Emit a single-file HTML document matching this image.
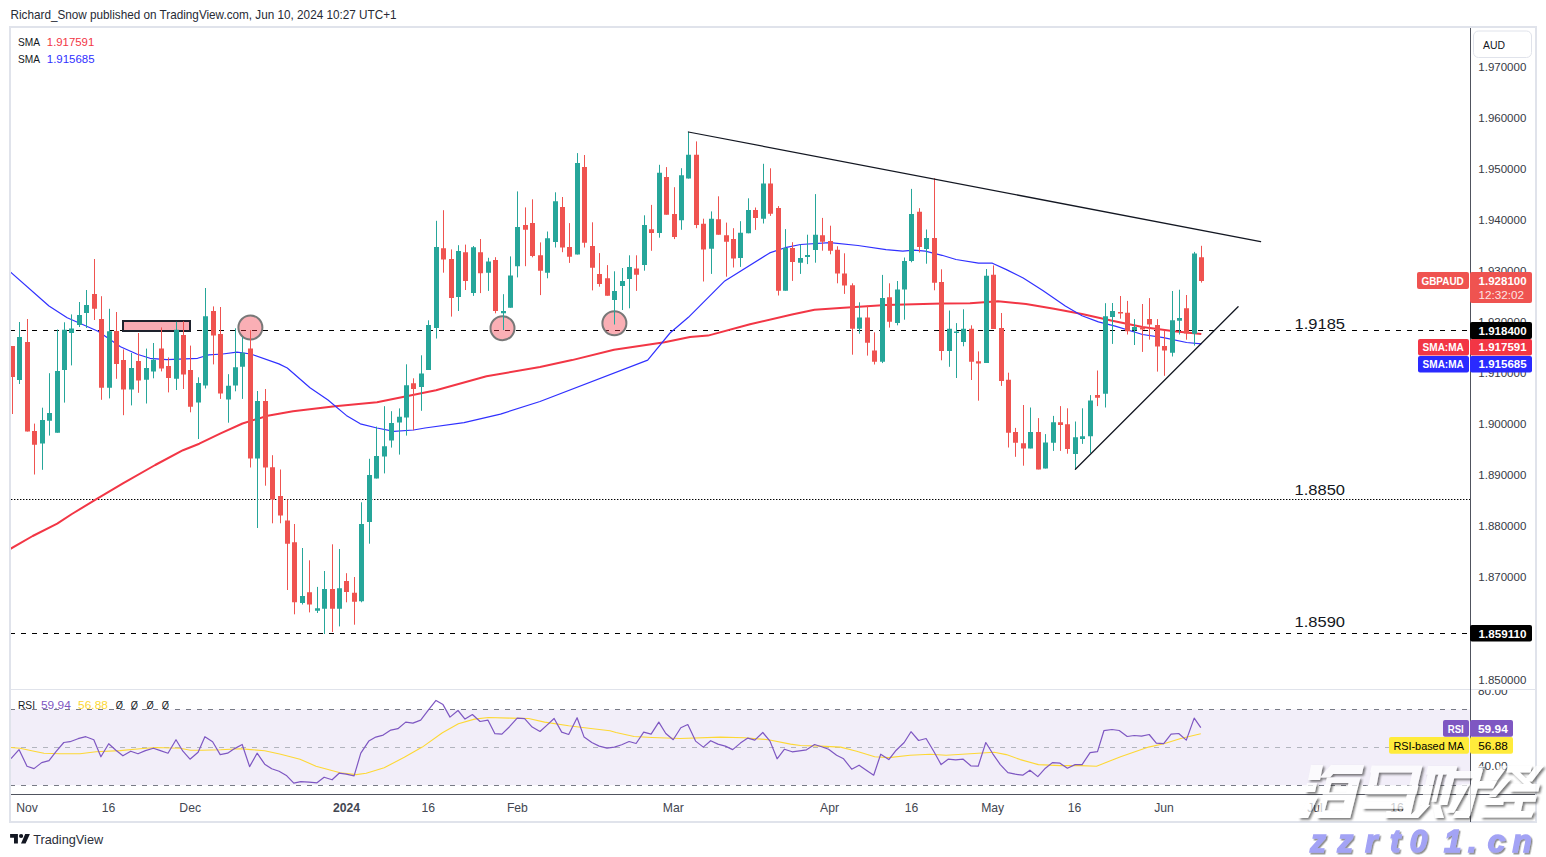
<!DOCTYPE html>
<html><head><meta charset="utf-8"><style>
html,body{margin:0;padding:0;background:#fff;width:1546px;height:857px;overflow:hidden}
svg{display:block;font-family:"Liberation Sans", sans-serif}
</style></head><body>
<svg width="1546" height="857" viewBox="0 0 1546 857">
<rect width="1546" height="857" fill="#fff"/>
<defs>
<clipPath id="pane"><rect x="11" y="28" width="1459" height="661"/></clipPath>
<clipPath id="rsip"><rect x="11" y="690" width="1459" height="104"/></clipPath>
<filter id="sh" x="-10%" y="-10%" width="130%" height="140%"><feDropShadow dx="1.8" dy="1.8" stdDeviation="1" flood-color="#333" flood-opacity="0.9"/></filter>
<filter id="sh2" x="-10%" y="-10%" width="130%" height="140%"><feDropShadow dx="1.4" dy="1.6" stdDeviation="0.7" flood-color="#333" flood-opacity="0.55"/></filter>
</defs>
<rect x="10" y="27" width="1526" height="795" fill="none" stroke="#e0e3eb" stroke-width="2"/>
<text x="10.5" y="19" font-size="12.2" fill="#262a35" textLength="386" lengthAdjust="spacingAndGlyphs">Richard_Snow published on TradingView.com, Jun 10, 2024 10:27 UTC+1</text>
<g clip-path="url(#pane)">
<line x1="10" y1="330.5" x2="1470" y2="330.5" stroke="#000" stroke-width="1" stroke-dasharray="5 6"/>
<line x1="11" y1="499.5" x2="1470" y2="499.5" stroke="#000" stroke-width="1.2" stroke-dasharray="1.4 1.6"/>
<line x1="10" y1="633.5" x2="1470" y2="633.5" stroke="#000" stroke-width="1" stroke-dasharray="5 6"/>
<polyline points="10.1,549.0 32.7,536.0 57.2,523.7 71.9,514.0 96.4,499.2 122.5,483.7 155.2,465.0 183.0,450.2 199.3,443.7 220.6,433.4 242.5,423.5 267.7,415.7 293.0,411.2 335.0,406.2 377.0,402.2 436.0,390.3 486.5,376.3 540.0,367.1 572.0,360.1 614.0,349.8 664.5,342.2 690.0,337.1 708.0,335.6 750.0,324.3 792.0,314.5 814.5,309.8 840.0,308.1 886.0,305.1 942.0,303.5 970.0,303.2 998.0,301.3 1026.0,304.1 1054.0,308.8 1082.0,313.9 1111.0,320.4 1142.5,327.1 1174.0,331.3 1201.3,334.0" fill="none" stroke="#f23645" stroke-width="2" stroke-linejoin="round"/>
<polyline points="10.4,271.9 49.0,306.0 67.2,317.8 98.0,331.3 120.5,346.7 137.3,354.2 150.0,358.3 166.8,359.7 197.6,358.3 208.8,354.9 222.8,354.0 236.9,352.1 250.9,354.0 278.9,363.9 287.3,368.0 310.0,387.7 328.0,400.0 346.3,415.4 360.3,423.8 377.0,428.0 393.9,431.4 413.6,430.0 425.0,428.0 464.0,422.6 500.5,414.1 540.0,401.5 647.7,360.1 670.0,333.0 688.4,317.3 724.8,280.9 769.7,252.9 786.5,247.3 800.5,244.5 830.0,242.7 858.0,245.5 886.0,249.7 902.8,251.1 914.0,250.2 925.3,251.1 942.0,255.3 956.0,259.5 978.5,263.1 992.4,263.2 1006.4,269.6 1023.2,278.0 1042.8,290.6 1065.3,306.0 1082.0,315.8 1098.4,321.9 1115.2,326.1 1142.5,334.5 1163.5,337.6 1186.6,342.5 1201.3,343.9" fill="none" stroke="#3030ff" stroke-width="1.2" stroke-linejoin="round"/>
<rect x="123" y="321" width="67" height="10" fill="#f8abb3" stroke="#1e222d" stroke-width="2"/>
<circle cx="250.4" cy="327.5" r="12" fill="rgba(242,54,69,0.4)" stroke="#787878" stroke-width="2"/>
<circle cx="502.5" cy="328.2" r="12" fill="rgba(242,54,69,0.4)" stroke="#787878" stroke-width="2"/>
<circle cx="614.4" cy="323.3" r="12" fill="rgba(242,54,69,0.4)" stroke="#787878" stroke-width="2"/>
<path d="M19.5,322.0V384.0M42.5,407.7V469.8M49.5,373.2V435.6M57.5,329.5V432.7M64.5,322.3V402.6M71.5,314.4V365.4M79.5,302.0V327.0M86.5,290.0V328.0M109.5,308.8V398.4M131.5,353.0V405.4M146.5,348.6V403.5M153.5,343.0V378.3M176.5,321.8V390.0M198.5,377.3V439.0M205.5,288.0V388.5M228.5,374.2V422.7M235.5,328.3V391.3M242.5,337.2V398.9M257.5,391.0V528.0M302.5,548.0V604.5M317.5,586.9V613.0M324.5,571.0V634.0M339.5,549.0V626.4M361.5,502.3V602.3M369.5,458.8V543.7M376.5,426.6V478.5M384.5,406.2V473.4M391.5,411.2V447.6M399.5,408.4V454.6M406.5,364.3V435.6M421.5,355.3V410.8M428.5,320.3V369.9M436.5,220.8V338.5M458.5,245.2V311.0M473.5,246.0V295.9M488.5,257.8V290.9M503.5,294.2V330.1M510.5,256.4V307.7M517.5,191.4V277.4M547.5,231.5V278.3M555.5,192.3V247.5M577.5,153.1V254.5M614.5,271.3V324.5M622.5,268.0V310.0M629.5,255.3V308.3M644.5,215.3V270.7M659.5,164.8V237.7M681.5,168.2V229.8M688.5,131.9V178.6M711.5,211.4V273.9M740.5,221.2V266.9M748.5,198.3V233.3M763.5,163.8V223.5M785.5,229.1V290.7M800.5,244.5V273.9M807.5,234.7V264.1M815.5,194.1V262.7M859.5,302.3V333.7M882.5,274.9V363.1M897.5,281.0V325.3M904.5,257.5V319.7M911.5,188.9V262.3M926.5,229.5V263.7M949.5,310.5V366.8M956.5,323.1V378.0M963.5,309.3V346.3M986.5,269.0V362.9M1030.5,407.5V448.4M1045.5,434.1V468.5M1053.5,415.9V450.9M1075.5,421.5V470.0M1082.5,408.3V443.9M1090.5,395.1V453.1M1105.5,303.2V407.5M1112.5,303.0V343.9M1134.5,319.1V345.0M1172.5,291.0V356.5M1179.5,289.7V334.5M1194.5,251.9V345.6" stroke="#26a69a" stroke-width="1" fill="none"/>
<path d="M17,337.0H22V380.0H17ZM40,420.0H45V443.5H40ZM47,413.0H52V420.8H47ZM55,371.0H60V432.7H55ZM62,329.8H67V369.9H62ZM69,328.4H74V332.9H69ZM77,315.0H82V325.0H77ZM84,305.0H89V313.0H84ZM107,331.2H112V387.8H107ZM129,368.0H134V389.5H129ZM144,368.0H149V379.7H144ZM151,359.8H156V371.5H151ZM174,329.7H179V378.7H174ZM196,383.0H201V402.5H196ZM203,316.2H208V385.4H203ZM226,385.7H231V399.4H226ZM233,367.2H238V385.4H233ZM240,352.7H245V366.7H240ZM255,401.0H260V458.6H255ZM300,596.0H305V603.0H300ZM315,608.2H320V610.7H315ZM322,589.0H327V608.7H322ZM337,588.3H342V608.7H337ZM359,524.1H364V601.2H359ZM367,475.1H372V521.9H367ZM374,456.0H379V478.5H374ZM382,446.2H387V456.6H382ZM389,423.0H394V440.6H389ZM397,416.8H402V422.4H397ZM404,385.3H409V417.5H404ZM419,373.5H424V387.0H419ZM426,325.0H431V369.9H426ZM434,246.9H439V327.9H434ZM456,251.1H461V297.0H456ZM471,247.2H476V293.1H471ZM486,261.4H491V272.7H486ZM501,311.0H506V313.3H501ZM508,275.5H513V307.7H508ZM515,227.0H520V266.2H515ZM545,238.2H550V272.7H545ZM553,201.3H558V241.9H553ZM575,162.9H580V254.5H575ZM612,290.9H617V299.9H612ZM620,281.1H625V285.9H620ZM627,267.1H632V278.9H627ZM642,225.1H647V265.1H642ZM657,172.7H662V232.9H657ZM679,175.2H684V220.3H679ZM686,154.8H691V178.6H686ZM709,218.7H714V248.7H709ZM738,232.7H743V257.9H738ZM746,210.0H751V233.3H746ZM761,183.4H766V218.7H761ZM783,247.9H788V290.7H783ZM798,257.9H803V262.7H798ZM805,255.1H810V257.1H805ZM813,234.7H818V250.1H813ZM857,317.5H862V328.7H857ZM880,298.1H885V361.7H880ZM895,289.4H900V323.1H895ZM902,260.9H907V289.4H902ZM909,214.1H914V260.9H909ZM924,237.9H929V249.1H924ZM947,328.7H952V351.1H947ZM954,331.5H959V333.0H954ZM961,328.7H966V342.1H961ZM984,275.8H989V362.9H984ZM1028,432.1H1033V448.4H1028ZM1043,442.5H1048V468.5H1043ZM1051,422.3H1056V442.8H1051ZM1073,437.2H1078V454.0H1073ZM1080,436.3H1085V439.1H1080ZM1088,400.5H1093V436.3H1088ZM1103,316.3H1108V393.7H1103ZM1110,311.0H1115V317.0H1110ZM1132,327.1H1137V330.3H1132ZM1170,320.2H1175V352.7H1170ZM1177,317.9H1182V320.8H1177ZM1192,253.6H1197V333.8H1192Z" fill="#26a69a"/>
<path d="M12.5,346.0V414.0M27.5,319.0V431.5M34.5,423.6V474.5M94.5,259.0V320.0M101.5,296.2V399.8M116.5,312.0V378.8M123.5,349.4V415.2M138.5,333.0V392.8M161.5,327.4V371.4M168.5,357.4V392.4M183.5,321.3V389.0M190.5,345.6V412.3M213.5,306.4V364.4M220.5,307.0V398.9M250.5,330.2V467.5M265.5,389.0V485.7M272.5,455.2V523.3M280.5,469.5V523.3M287.5,499.5V590.0M294.5,524.0V614.3M309.5,560.3V612.4M332.5,544.3V632.0M346.5,573.2V602.3M354.5,577.0V624.7M413.5,378.3V430.3M443.5,210.2V272.7M451.5,249.4V316.6M465.5,244.6V290.0M480.5,239.0V293.1M495.5,257.2V313.3M525.5,207.4V266.2M532.5,199.3V257.3M540.5,242.4V295.1M562.5,197.0V252.2M569.5,223.1V262.9M584.5,155.0V247.5M592.5,222.3V290.4M599.5,253.1V286.7M607.5,265.1V295.7M636.5,255.3V290.9M651.5,204.9V250.8M666.5,167.1V214.7M674.5,187.2V239.1M696.5,141.4V228.2M703.5,218.7V281.5M718.5,196.3V234.7M726.5,222.6V276.7M733.5,228.2V267.5M755.5,207.5V229.9M770.5,168.3V215.9M778.5,206.1V295.5M792.5,242.2V280.9M822.5,217.9V250.7M830.5,225.7V254.3M837.5,246.3V283.3M844.5,253.3V293.9M852.5,283.3V354.7M867.5,305.7V355.6M874.5,332.3V364.5M889.5,283.3V327.6M919.5,208.2V252.5M934.5,178.2V290.3M941.5,269.3V360.3M971.5,325.3V380.0M978.5,351.4V400.7M993.5,265.4V329.0M1001.5,313.0V385.9M1008.5,372.7V447.5M1015.5,427.9V456.8M1023.5,405.0V465.7M1038.5,418.1V469.4M1060.5,406.1V450.9M1067.5,408.3V453.7M1097.5,370.5V406.1M1120.5,296.0V318.7M1127.5,300.9V334.5M1142.5,304.0V351.9M1149.5,298.1V339.7M1157.5,319.1V371.6M1164.5,330.3V375.8M1186.5,295.0V339.7M1201.5,245.8V282.6" stroke="#ef5350" stroke-width="1" fill="none"/>
<path d="M10,346.0H15V377.0H10ZM25,342.0H30V431.5H25ZM32,431.0H37V444.7H32ZM92,294.0H97V308.8H92ZM99,319.0H104V387.8H99ZM114,331.0H119V364.0H114ZM121,360.0H126V389.5H121ZM136,361.0H141V380.5H136ZM159,348.5H164V368.6H159ZM166,366.0H171V377.9H166ZM181,335.0H186V374.5H181ZM188,370.0H193V406.7H188ZM211,311.0H216V335.6H211ZM218,333.9H223V393.6H218ZM248,348.5H253V458.6H248ZM263,401.0H268V467.5H263ZM270,467.2H275V499.5H270ZM278,496.1H283V515.4H278ZM285,520.5H290V543.7H285ZM292,542.3H297V602.3H292ZM307,592.2H312V604.5H307ZM330,589.0H335V608.7H330ZM344,581.0H349V592.0H344ZM352,592.8H357V601.7H352ZM411,383.3H416V389.0H411ZM441,248.3H446V259.5H441ZM449,258.9H454V297.9H449ZM463,252.2H468V281.0H463ZM478,252.2H483V273.2H478ZM493,260.0H498V311.0H493ZM523,225.0H528V229.8H523ZM530,223.1H535V255.9H530ZM538,255.3H543V270.7H538ZM560,207.1H565V247.5H560ZM567,246.9H572V256.7H567ZM582,167.1H587V242.7H582ZM590,246.1H595V267.7H590ZM597,274.1H602V283.9H597ZM605,278.3H610V295.7H605ZM634,268.5H639V274.7H634ZM649,229.3H654V232.9H649ZM664,176.9H669V214.7H664ZM672,213.9H677V237.1H672ZM694,154.8H699V224.9H694ZM701,223.8H706V249.5H701ZM716,219.3H721V234.7H716ZM724,235.2H729V241.7H724ZM731,238.9H736V258.5H731ZM753,210.0H758V217.9H753ZM768,183.4H773V213.7H768ZM776,208.1H781V290.7H776ZM790,247.9H795V261.9H790ZM820,235.2H825V241.7H820ZM828,240.9H833V250.7H828ZM835,249.7H840V273.5H835ZM842,273.5H847V285.5H842ZM850,285.2H855V328.7H850ZM865,317.5H870V342.7H865ZM872,350.5H877V361.7H872ZM887,297.3H892V321.7H887ZM917,211.8H922V246.9H917ZM932,237.9H937V282.7H932ZM939,281.9H944V351.1H939ZM969,328.7H974V361.7H969ZM976,361.2H981V363.5H976ZM991,274.7H996V329.0H991ZM999,327.9H1004V381.1H999ZM1006,379.7H1011V432.7H1006ZM1013,432.1H1018V442.8H1013ZM1021,443.3H1026V448.4H1021ZM1036,432.1H1041V469.4H1036ZM1058,422.3H1063V425.1H1058ZM1065,424.3H1070V448.9H1065ZM1095,394.9H1100V397.7H1095ZM1118,312.0H1123V313.5H1118ZM1125,312.8H1130V331.3H1125ZM1140,327.5H1145V329.6H1140ZM1147,319.1H1152V324.6H1147ZM1155,325.0H1160V346.4H1155ZM1162,346.0H1167V350.6H1162ZM1184,308.2H1189V333.4H1184ZM1199,257.2H1204V280.9H1199Z" fill="#ef5350"/>
<line x1="688.4" y1="132" x2="1260.6" y2="241.6" stroke="#131722" stroke-width="1.25" stroke-linecap="round"/>
<line x1="1075.4" y1="469.2" x2="1238.1" y2="306.7" stroke="#131722" stroke-width="1.25" stroke-linecap="round"/>
<text x="1294.5" y="328.8" font-size="14.8" fill="#131722" textLength="50.5" lengthAdjust="spacingAndGlyphs">1.9185</text>
<text x="1294.5" y="494.7" font-size="14.8" fill="#131722" textLength="50.5" lengthAdjust="spacingAndGlyphs">1.8850</text>
<text x="1294.5" y="626.7" font-size="14.8" fill="#131722" textLength="50.5" lengthAdjust="spacingAndGlyphs">1.8590</text>
<text x="18" y="45.7" font-size="11.8" fill="#131722" textLength="22" lengthAdjust="spacingAndGlyphs">SMA</text>
<text x="46.8" y="45.7" font-size="11.8" fill="#f23645" textLength="47.5" lengthAdjust="spacingAndGlyphs">1.917591</text>
<text x="18" y="62.8" font-size="11.8" fill="#131722" textLength="22" lengthAdjust="spacingAndGlyphs">SMA</text>
<text x="46.8" y="62.8" font-size="11.8" fill="#3030ff" textLength="47.8" lengthAdjust="spacingAndGlyphs">1.915685</text>
</g>
<rect x="11" y="689" width="1524" height="1" fill="#e0e3eb"/>
<rect x="1470" y="28" width="1" height="794" fill="#50535e"/>
<rect x="11" y="794" width="1524" height="1" fill="#50535e"/>
<rect x="1473.5" y="31" width="58" height="26.5" rx="5" fill="#fff" stroke="#e0e3eb" stroke-width="1"/>
<text x="1483" y="48.7" font-size="11.6" fill="#131722" textLength="22" lengthAdjust="spacingAndGlyphs">AUD</text>
<text x="1478.3" y="70.7" font-size="11.8" fill="#363a45" textLength="48" lengthAdjust="spacingAndGlyphs">1.970000</text>
<text x="1478.3" y="121.8" font-size="11.8" fill="#363a45" textLength="48" lengthAdjust="spacingAndGlyphs">1.960000</text>
<text x="1478.3" y="172.8" font-size="11.8" fill="#363a45" textLength="48" lengthAdjust="spacingAndGlyphs">1.950000</text>
<text x="1478.3" y="223.9" font-size="11.8" fill="#363a45" textLength="48" lengthAdjust="spacingAndGlyphs">1.940000</text>
<text x="1478.3" y="275.0" font-size="11.8" fill="#363a45" textLength="48" lengthAdjust="spacingAndGlyphs">1.930000</text>
<text x="1478.3" y="326.1" font-size="11.8" fill="#363a45" textLength="48" lengthAdjust="spacingAndGlyphs">1.920000</text>
<text x="1478.3" y="377.1" font-size="11.8" fill="#363a45" textLength="48" lengthAdjust="spacingAndGlyphs">1.910000</text>
<text x="1478.3" y="428.2" font-size="11.8" fill="#363a45" textLength="48" lengthAdjust="spacingAndGlyphs">1.900000</text>
<text x="1478.3" y="479.3" font-size="11.8" fill="#363a45" textLength="48" lengthAdjust="spacingAndGlyphs">1.890000</text>
<text x="1478.3" y="530.3" font-size="11.8" fill="#363a45" textLength="48" lengthAdjust="spacingAndGlyphs">1.880000</text>
<text x="1478.3" y="581.4" font-size="11.8" fill="#363a45" textLength="48" lengthAdjust="spacingAndGlyphs">1.870000</text>
<text x="1478.3" y="632.5" font-size="11.8" fill="#363a45" textLength="48" lengthAdjust="spacingAndGlyphs">1.860000</text>
<text x="1478.3" y="683.5" font-size="11.8" fill="#363a45" textLength="48" lengthAdjust="spacingAndGlyphs">1.850000</text>
<rect x="1417" y="272" width="52" height="17" rx="2" fill="#ef5350"/>
<text x="1421.5" y="284.6" font-size="11.4" font-weight="bold" fill="#fff" textLength="42.2" lengthAdjust="spacingAndGlyphs">GBPAUD</text>
<rect x="1470" y="272" width="62" height="31" rx="2" fill="#ef5350"/>
<text x="1478.6" y="284.6" font-size="11.6" font-weight="bold" fill="#fff" textLength="48" lengthAdjust="spacingAndGlyphs">1.928100</text>
<text x="1478.6" y="298.7" font-size="11.6" fill="#fde3e3" textLength="45.5" lengthAdjust="spacingAndGlyphs">12:32:02</text>
<rect x="1470" y="322" width="62" height="17" rx="2" fill="#000"/>
<text x="1478.6" y="334.6" font-size="11.6" font-weight="bold" fill="#fff" textLength="48" lengthAdjust="spacingAndGlyphs">1.918400</text>
<rect x="1418" y="339" width="51" height="16.5" rx="2" fill="#f23645"/>
<text x="1422.6" y="351.3" font-size="11.4" font-weight="bold" fill="#fff" textLength="41.2" lengthAdjust="spacingAndGlyphs">SMA:MA</text>
<rect x="1470" y="339" width="62" height="16.5" rx="2" fill="#f23645"/>
<text x="1478.6" y="351.3" font-size="11.6" font-weight="bold" fill="#fff" textLength="48" lengthAdjust="spacingAndGlyphs">1.917591</text>
<rect x="1418" y="356" width="51" height="16.5" rx="2" fill="#2a2aff"/>
<text x="1422.6" y="368.4" font-size="11.4" font-weight="bold" fill="#fff" textLength="41.2" lengthAdjust="spacingAndGlyphs">SMA:MA</text>
<rect x="1470" y="356" width="62" height="16.5" rx="2" fill="#2a2aff"/>
<text x="1478.6" y="368.4" font-size="11.6" font-weight="bold" fill="#fff" textLength="48" lengthAdjust="spacingAndGlyphs">1.915685</text>
<rect x="1470" y="625" width="62" height="16.5" rx="2" fill="#000"/>
<text x="1478.6" y="637.5" font-size="11.6" font-weight="bold" fill="#fff" textLength="48" lengthAdjust="spacingAndGlyphs">1.859110</text>
<g clip-path="url(#rsip)">
<rect x="11" y="709.5" width="1459" height="75.7" fill="#7e57c2" fill-opacity="0.1"/>
<line x1="10" y1="709.5" x2="1470" y2="709.5" stroke="#787b86" stroke-width="1" stroke-dasharray="5 6"/>
<line x1="10" y1="747.5" x2="1470" y2="747.5" stroke="#b2b5be" stroke-width="1" stroke-dasharray="5 6"/>
<line x1="10" y1="785.5" x2="1470" y2="785.5" stroke="#787b86" stroke-width="1" stroke-dasharray="5 6"/>
<polyline points="10.0,747.5 20.0,748.2 34.0,751.2 44.0,753.2 60.0,753.8 80.0,753.8 96.0,751.8 120.0,750.6 140.0,748.8 156.0,747.5 180.0,748.2 190.5,750.2 202.5,750.2 220.6,749.8 240.6,748.8 250.6,749.6 264.7,750.8 280.7,754.2 300.0,759.2 316.0,766.2 340.1,772.8 356.1,774.6 366.2,773.2 384.2,767.8 404.3,757.2 422.3,747.1 442.4,732.7 458.4,723.7 474.5,719.1 488.5,717.5 510.5,718.1 528.6,718.5 544.6,722.1 568.7,725.7 590.8,728.5 610.0,730.7 616.0,732.5 634.1,736.5 652.1,737.5 680.2,738.5 720.3,737.1 744.4,737.7 768.4,739.7 790.5,744.1 800.5,745.5 820.6,746.1 840.6,747.1 856.7,751.2 874.7,756.8 888.8,757.6 910.0,755.2 930.1,754.2 946.1,755.2 970.2,753.8 994.2,752.2 1006.3,754.6 1020.3,759.6 1038.4,764.6 1060.4,765.6 1080.5,765.6 1096.5,766.2 1108.5,761.6 1120.6,756.8 1148.6,747.1 1164.7,743.5 1180.7,738.5 1200.8,733.7" fill="none" stroke="#fdd835" stroke-width="1.1" stroke-linejoin="round"/>
<polyline points="11.0,758.6 19.0,749.6 27.0,766.2 34.0,768.6 41.7,762.6 49.0,760.6 56.0,751.6 63.8,742.5 70.0,741.7 78.0,738.7 85.8,736.7 93.8,739.7 100.9,756.8 108.7,743.7 115.9,750.2 122.9,755.8 130.7,751.2 138.0,753.8 145.4,750.6 153.4,748.2 160.4,750.6 168.0,753.2 176.0,739.7 182.9,751.2 190.0,759.2 198.1,752.2 204.9,736.7 212.6,741.7 220.2,754.6 227.6,753.2 234.6,748.6 242.2,744.5 249.6,766.6 257.1,753.2 264.7,764.2 271.7,768.8 279.1,771.2 286.8,775.8 293.8,783.2 300.8,781.6 309.0,782.2 317.0,782.8 324.1,777.2 332.1,779.8 339.1,773.2 346.1,774.2 354.1,775.8 360.8,753.2 368.8,741.1 375.8,737.1 383.2,735.1 390.8,730.1 397.9,728.7 405.7,722.1 412.9,723.1 420.7,720.1 428.3,710.1 436.0,700.4 443.0,704.6 450.0,717.1 458.0,710.5 465.0,719.1 472.4,714.5 480.1,721.5 487.9,720.1 494.9,733.7 501.9,734.1 509.5,726.7 517.2,718.1 524.6,718.7 532.2,727.1 540.0,731.5 547.0,725.1 554.1,718.5 561.7,732.1 568.7,734.5 577.1,717.7 584.1,737.1 591.8,742.5 599.2,746.1 607.0,748.2 614.4,747.1 621.7,744.7 629.1,741.5 636.1,743.5 643.7,732.1 651.1,734.1 658.8,722.1 665.8,733.5 673.2,739.7 680.8,727.7 687.8,724.5 695.6,741.1 703.3,747.1 710.7,740.7 717.9,744.1 725.3,746.1 732.7,749.6 740.4,743.1 747.8,738.1 754.8,740.1 762.8,732.5 770.0,741.1 777.1,758.8 784.5,749.2 792.1,751.8 799.5,750.8 806.5,749.8 814.6,744.5 821.6,746.7 828.6,749.2 836.6,755.2 843.6,758.8 851.7,769.2 859.1,765.2 866.3,770.2 873.7,775.2 880.7,754.2 888.8,759.6 896.2,750.2 904.2,742.5 911.0,731.7 918.6,740.5 926.1,738.5 933.7,751.2 941.1,764.6 948.1,759.2 955.7,759.8 963.2,759.2 970.8,765.8 978.2,766.2 985.8,742.5 992.8,753.8 1000.3,764.6 1007.9,772.6 1015.3,774.2 1022.7,775.2 1029.9,770.2 1037.8,776.6 1045.4,768.2 1052.4,762.6 1060.0,763.2 1067.4,768.2 1075.1,764.6 1082.1,764.6 1090.1,752.6 1097.5,751.6 1103.9,730.7 1112.0,729.5 1119.2,730.5 1127.2,736.5 1134.2,735.5 1141.6,736.1 1149.2,734.5 1156.3,743.1 1163.7,743.7 1171.1,734.1 1178.7,733.5 1186.3,740.1 1194.2,718.1 1200.8,727.7" fill="none" stroke="#7e57c2" stroke-width="1.2" stroke-linejoin="round"/>
<text x="18" y="708.6" font-size="11.8" fill="#131722" textLength="17" lengthAdjust="spacingAndGlyphs">RSI</text>
<text x="41" y="708.6" font-size="11.8" fill="#7e57c2" textLength="29.8" lengthAdjust="spacingAndGlyphs">59.94</text>
<text x="78" y="708.6" font-size="11.8" fill="#fdd835" textLength="30" lengthAdjust="spacingAndGlyphs">56.88</text>
<text x="115.7" y="708.6" font-size="11.8" fill="#131722" textLength="7.2" lengthAdjust="spacingAndGlyphs">Ø</text>
<text x="130.7" y="708.6" font-size="11.8" fill="#131722" textLength="7.2" lengthAdjust="spacingAndGlyphs">Ø</text>
<text x="146.4" y="708.6" font-size="11.8" fill="#131722" textLength="7.2" lengthAdjust="spacingAndGlyphs">Ø</text>
<text x="161.8" y="708.6" font-size="11.8" fill="#131722" textLength="7.2" lengthAdjust="spacingAndGlyphs">Ø</text>
</g>
<clipPath id="ax80"><rect x="1471" y="690" width="64" height="20"/></clipPath>
<text x="1478" y="694.6" font-size="11.8" fill="#363a45" textLength="29.6" lengthAdjust="spacingAndGlyphs" clip-path="url(#ax80)">80.00</text>
<text x="1478" y="769.7" font-size="11.8" fill="#363a45" textLength="29.6" lengthAdjust="spacingAndGlyphs">40.00</text>
<rect x="1443" y="720" width="26" height="16.8" rx="2" fill="#7e57c2"/>
<text x="1447.8" y="732.5" font-size="11.4" font-weight="bold" fill="#fff" textLength="16" lengthAdjust="spacingAndGlyphs">RSI</text>
<rect x="1470" y="720" width="43" height="16.8" rx="2" fill="#7e57c2"/>
<text x="1478" y="732.5" font-size="11.6" font-weight="bold" fill="#fff" textLength="29.8" lengthAdjust="spacingAndGlyphs">59.94</text>
<rect x="1389" y="737" width="80" height="16.8" rx="2" fill="#ffeb3b"/>
<text x="1393.4" y="749.6" font-size="11.6" fill="#000" textLength="70.6" lengthAdjust="spacingAndGlyphs">RSI-based MA</text>
<rect x="1470" y="737" width="43" height="16.8" rx="2" fill="#ffeb3b"/>
<text x="1478.3" y="749.6" font-size="11.6" fill="#000" textLength="29.5" lengthAdjust="spacingAndGlyphs">56.88</text>
<text x="27" y="812" font-size="12.2" fill="#434651" text-anchor="middle">Nov</text>
<text x="108.5" y="812" font-size="12.2" fill="#434651" text-anchor="middle">16</text>
<text x="190.2" y="812" font-size="12.2" fill="#434651" text-anchor="middle">Dec</text>
<text x="346.6" y="812" font-size="12.2" fill="#434651" text-anchor="middle" font-weight="bold">2024</text>
<text x="428.3" y="812" font-size="12.2" fill="#434651" text-anchor="middle">16</text>
<text x="517.4" y="812" font-size="12.2" fill="#434651" text-anchor="middle">Feb</text>
<text x="673.3" y="812" font-size="12.2" fill="#434651" text-anchor="middle">Mar</text>
<text x="829.5" y="812" font-size="12.2" fill="#434651" text-anchor="middle">Apr</text>
<text x="911.6" y="812" font-size="12.2" fill="#434651" text-anchor="middle">16</text>
<text x="992.7" y="812" font-size="12.2" fill="#434651" text-anchor="middle">May</text>
<text x="1074.6" y="812" font-size="12.2" fill="#434651" text-anchor="middle">16</text>
<text x="1164" y="812" font-size="12.2" fill="#434651" text-anchor="middle">Jun</text>
<text x="1315" y="812" font-size="12.2" fill="#434651" text-anchor="middle">Jul</text>
<text x="1397" y="812" font-size="12.2" fill="#434651" text-anchor="middle">16</text>
<g fill="#131722">
<path d="M10.1,833.9H17.9V843.6H14V837.8H10.1Z"/>
<circle cx="21.1" cy="836" r="2.1"/>
<path d="M25.2,833.9H29.9L25.6,843.6H21Z"/>
</g>
<text x="33.2" y="844" font-size="12.8" fill="#2a2e39" textLength="70" lengthAdjust="spacingAndGlyphs">TradingView</text>
<g opacity="0.72"><g filter="url(#sh)" fill="#ffffff">
<path d="M1327.0,777.5 L1360.4,777.5 L1350.2,818.0 L1316.6,818.0ZM1331.4,783.0 L1348.6,783.0 L1346.3,792.4 L1329.1,792.4ZM1327.5,800.2 L1344.7,800.2 L1342.0,810.4 L1324.8,810.4Z" fill-rule="evenodd"/>
<path d="M1311.0,765.0 L1323.0,765.0 L1320.0,780.0 L1308.0,780.0ZM1307.0,783.0 L1317.0,783.0 L1315.0,792.0 L1305.0,792.0ZM1309.0,797.0 L1318.0,797.0 L1308.0,818.0 L1298.0,818.0ZM1334.0,765.0 L1364.0,765.0 L1362.0,774.0 L1331.0,774.0ZM1331.0,765.0 L1341.0,765.0 L1330.0,777.5 L1320.0,777.5ZM1371.7,765.4 L1422.5,765.4 L1420.8,772.5 L1370.0,772.5ZM1414.0,765.4 L1422.5,765.4 L1410.0,818.0 L1401.5,818.0ZM1386.6,811.0 L1410.0,811.0 L1410.0,818.0 L1385.0,818.0ZM1371.0,772.5 L1379.0,772.5 L1376.5,786.0 L1368.5,786.0ZM1366.5,785.4 L1418.5,785.4 L1416.3,794.4 L1364.7,794.4ZM1364.0,801.8 L1406.0,801.8 L1404.3,808.8 L1362.3,808.8ZM1428.0,766.0 L1457.4,766.0 L1455.4,774.4 L1426.0,774.4ZM1427.5,774.4 L1435.5,774.4 L1428.5,805.0 L1420.5,805.0ZM1449.2,766.0 L1457.4,766.0 L1447.2,805.0 L1439.0,805.0ZM1438.4,774.4 L1443.0,774.4 L1436.2,801.8 L1431.6,801.8ZM1422.0,805.0 L1430.0,805.0 L1418.0,818.0 L1407.0,818.0ZM1433.0,805.0 L1440.0,805.0 L1444.0,818.0 L1435.0,818.0ZM1452.0,771.0 L1478.0,771.0 L1476.3,778.3 L1450.0,778.3ZM1476.0,766.0 L1484.0,766.0 L1470.0,816.0 L1462.0,816.0ZM1456.0,811.0 L1470.0,811.0 L1469.0,818.0 L1452.0,818.0ZM1462.0,783.8 L1470.0,783.8 L1454.0,812.7 L1446.0,812.7ZM1500.0,765.8 L1508.0,765.8 L1497.0,780.7 L1489.0,780.7ZM1480.0,781.0 L1497.0,781.0 L1493.0,788.5 L1477.0,788.5ZM1503.0,779.0 L1511.0,779.0 L1495.4,797.0 L1487.4,797.0ZM1485.0,798.0 L1504.0,798.0 L1503.2,805.0 L1483.7,805.0ZM1508.0,766.0 L1532.0,766.0 L1530.5,772.5 L1506.5,772.5ZM1536.0,765.8 L1544.0,765.8 L1532.0,781.5 L1524.0,781.5ZM1512.0,772.5 L1520.0,772.5 L1532.0,784.0 L1524.0,784.0ZM1512.0,784.0 L1540.0,784.0 L1538.4,791.6 L1509.5,791.6ZM1505.0,795.0 L1537.0,795.0 L1535.5,801.8 L1503.2,801.8ZM1515.0,801.8 L1523.0,801.8 L1521.0,811.0 L1513.0,811.0ZM1482.0,811.0 L1534.0,811.0 L1531.4,817.4 L1480.5,817.4Z"/>
</g></g>
<text y="851.5" font-size="32" font-weight="bold" font-style="italic" fill="#a3a3f5" stroke="#a3a3f5" stroke-width="1.3" filter="url(#sh2)"><tspan x="1310.1">z</tspan><tspan x="1337.2">z</tspan><tspan x="1365.0">r</tspan><tspan x="1389.7">t</tspan><tspan x="1409.6">0</tspan><tspan x="1443.8">1</tspan><tspan x="1467.7">.</tspan><tspan x="1487.5">c</tspan><tspan x="1512.2">n</tspan></text>
</svg>
</body></html>
